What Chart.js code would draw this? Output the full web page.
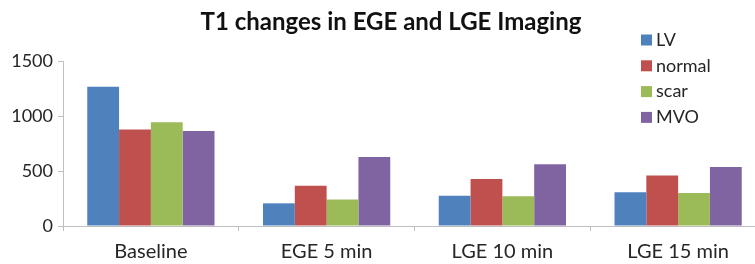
<!DOCTYPE html>
<html>
<head>
<meta charset="utf-8">
<script src="https://cdn.jsdelivr.net/npm/chart.js@4.4.1/dist/chart.umd.min.js"></script>
<style>
  html, body { margin:0; padding:0; background:#fff; }
  #wrap { width:755px; height:264px; overflow:hidden; position:relative; }
  #box { width:782px; height:264px; }
</style>
</head>
<body>
<div id="wrap"><div id="box"><canvas id="myChart"></canvas></div></div>
<script>
// data
const categories = ["Baseline", "EGE 5 min", "LGE 10 min", "LGE 15 min"];
const lvValues     = [1265, 206, 276, 306];
const normalValues = [878, 367, 427, 458];
const scarValues   = [943, 240, 270, 300];
const mvoValues    = [864, 627, 561, 536];
const yTicks = [0, 500, 1000, 1500];

const chartTitle   = 'T1 changes in EGE and LGE Imaging';
const seriesNames  = ["LV", "normal", "scar", "MVO"];
const seriesColors = ["#4f81bd", "#c0504d", "#9bbb59", "#8064a2"];
const seriesValues = [lvValues, normalValues, scarValues, mvoValues];

// title + legend drawn by hand (title is a bit right of the canvas centre, legend sits inside the plot)
const titleAndLegend = {
  id: 'titleAndLegend',
  afterDraw(chart) {
    const c = chart.ctx;
    c.save();
    c.textBaseline = 'middle';
    c.textAlign = 'center';
    c.fillStyle = '#111';
    c.font = 'bold 24px Lato';
    c.fillText(chartTitle, 391, 22);

    c.textAlign = 'left';
    c.font = '18px Lato';
    chart.data.datasets.forEach((ds, i) => {
      const y = 40 + i * 25.8;
      c.fillStyle = ds.backgroundColor;
      c.fillRect(641, y - 5.5, 11, 11);
      c.fillStyle = '#262626';
      c.fillText(ds.label, 656, y);
    });
    c.restore();
  }
};

var ctx = document.getElementById('myChart');
const myChart = new Chart(ctx, {
  type: 'bar',
  data: {
    labels: categories,
    datasets: seriesNames.map((name, i) => ({
      label: name,
      data: seriesValues[i],
      backgroundColor: seriesColors[i],
      borderWidth: 0,
      barPercentage: 1,
      categoryPercentage: 0.724
    }))
  },
  options: {
    responsive: true,
    maintainAspectRatio: false,
    animation: false,
    layout: {
      padding: { top: 61, left: 0, right: 16, bottom: 0 }
    },
    plugins: {
      legend: { display: false },
      tooltip: { enabled: false },
      title: { display: false }
    },
    scales: {
      x: {
        afterFit: (s) => { s.height = 38; },
        grid: {
          display: true,
          drawOnChartArea: false,
          offset: true,
          tickLength: 5,
          color: '#bfbfbf'
        },
        border: { color: '#bfbfbf' },
        ticks: {
          color: '#262626',
          padding: 9,
          font: { family: 'Lato', size: 20 }
        }
      },
      y: {
        min: 0,
        max: 1500,
        afterBuildTicks: (s) => { s.ticks = yTicks.map(v => ({ value: v })); },
        afterFit: (s) => { s.width = 63; },
        grid: {
          display: true,
          drawOnChartArea: false,
          tickLength: 5,
          color: '#bfbfbf'
        },
        border: { color: '#bfbfbf' },
        ticks: {
          color: '#262626',
          padding: 5,
          font: { family: 'Lato', size: 18 },
          callback: (v) => String(v)
        }
      }
    }
  },
  plugins: [titleAndLegend]
});
</script>
</body>
</html>
